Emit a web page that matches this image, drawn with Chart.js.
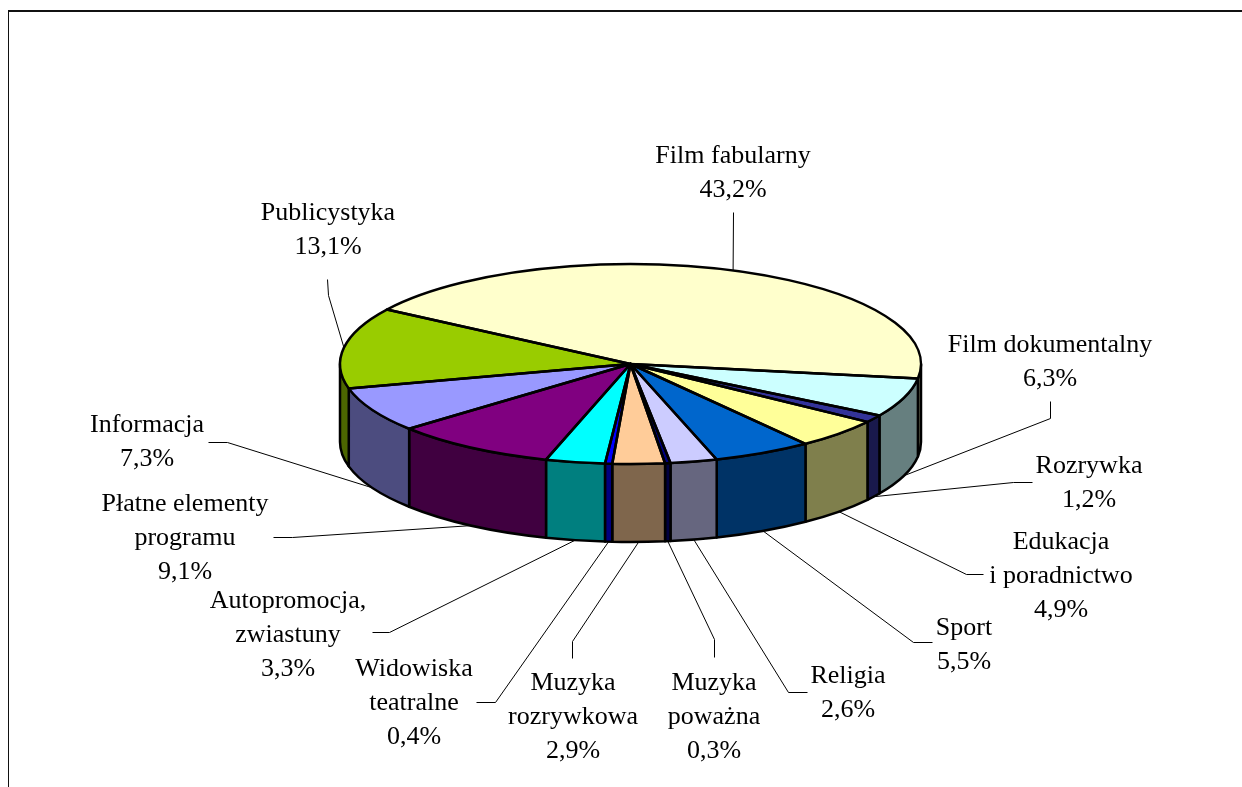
<!DOCTYPE html>
<html>
<head>
<meta charset="utf-8">
<title>Struktura programu</title>
<script src="https://cdn.jsdelivr.net/npm/chart.js@4"></script>
<style>
    body { margin: 0; background: #fff; }
    #wrap { position: absolute; left: 0; top: 0; width: 1242px; height: 787px; overflow: hidden; }
    /* only the top and left edges of the frame are visible in the crop */
    #frame { position: absolute; left: 8px; top: 10px; width: 1300px; height: 900px; box-sizing: border-box;
             border-top: 2px solid #111; border-left: 1px solid #111; }
    canvas { position: absolute; left: 0; top: 0; }
</style>
</head>
<body>
<div id="wrap">
    <div id="frame"></div>
    <canvas id="chart" width="1242" height="787"></canvas>
</div>
<script>
// Data
const categories = [
    'Film fabularny', 'Film dokumentalny', 'Rozrywka', 'Edukacja\ni poradnictwo', 'Sport', 'Religia',
    'Muzyka\npoważna', 'Muzyka\nrozrywkowa', 'Widowiska\nteatralne', 'Autopromocja,\nzwiastuny',
    'Płatne elementy\nprogramu', 'Informacja', 'Publicystyka'
];
const shares = [43.2, 6.3, 1.2, 4.9, 5.5, 2.6, 0.3, 2.9, 0.4, 3.3, 9.1, 7.3, 13.1];
const sliceColors = [
    '#FFFFCC', '#CCFFFF', '#333399', '#FFFF99', '#0066CC', '#CCCCFF',
    '#000080', '#FFCC99', '#0000FF', '#00FFFF', '#800080', '#9999FF', '#99CC00'
];

// Label layout: centre x and y of the first text line, then the leader's free end and elbow
const labelCenters = [
    [733, 156], [1050, 345], [1089, 466], [1061, 542], [964, 628], [848, 676],
    [714, 683], [573, 683], [414, 669], [288, 601], [185, 504], [147, 425], [328, 213]
];
const leaderStarts = [
    [733, 212], [1050, 401], [1032, 482], [983, 574], [932, 642], [807, 692],
    [714, 657], [572, 658], [476, 702], [372, 632], [273, 537], [208, 442], [327, 279]
];
const leaderElbows = [
    [733, 212], [1050, 418], [1013, 482], [966, 574], [913, 642], [788, 692],
    [714, 639], [572, 641], [495, 702], [389, 632], [292, 537], [227, 442], [328, 295]
];

const START_ROTATION = -57;   // degrees, Film fabularny starts here
const TILT = 100 / 290.5;     // vertical squash of the pie
const DEPTH = 78;             // height of the rim
const LINE_HEIGHT = 34;
const OUTLINE = 2.5;

function halfColor(hex) {
    const n = parseInt(hex.slice(1), 16);
    const r = (n >> 16) >> 1, g = ((n >> 8) & 255) >> 1, b = (n & 255) >> 1;
    return `rgb(${r},${g},${b})`;
}

function sliceGeometry(chart) {
    return chart.getDatasetMeta(0).data.map(arc =>
        arc.getProps(['x', 'y', 'startAngle', 'endAngle', 'outerRadius'], true));
}

const tiltedPie = {
    id: 'tiltedPie',
    beforeDatasetsDraw(chart) {
        const ctx = chart.ctx;
        ctx.save();
        ctx.lineWidth = OUTLINE;
        ctx.lineJoin = 'round';
        ctx.strokeStyle = '#000';

        // Rim: only the part of each slice facing the viewer (0..PI on the canvas)
        sliceGeometry(chart).forEach((g, i) => {
            [0, Math.PI * 2].forEach(turn => {
                const a0 = Math.max(g.startAngle, turn);
                const a1 = Math.min(g.endAngle, turn + Math.PI);
                if (a1 <= a0) return;
                const ry = g.outerRadius * TILT;
                ctx.beginPath();
                ctx.ellipse(g.x, g.y, g.outerRadius, ry, 0, a0, a1);
                ctx.ellipse(g.x, g.y + DEPTH, g.outerRadius, ry, 0, a1, a0, true);
                ctx.closePath();
                ctx.fillStyle = halfColor(sliceColors[i]);
                ctx.fill();
                ctx.stroke();
            });
        });
        ctx.restore();

        // The library draws the top face, squashed
        const c = sliceGeometry(chart)[0];
        ctx.save();
        ctx.translate(c.x, c.y);
        ctx.scale(1, TILT);
        ctx.translate(-c.x, -c.y);
    },
    afterDatasetsDraw(chart) {
        const ctx = chart.ctx;
        ctx.restore();

        const slices = sliceGeometry(chart);

        // Slice outlines at an even line width
        ctx.save();
        ctx.lineWidth = OUTLINE;
        ctx.lineJoin = 'round';
        ctx.strokeStyle = '#000';
        slices.forEach(g => {
            ctx.beginPath();
            ctx.moveTo(g.x, g.y);
            ctx.ellipse(g.x, g.y, g.outerRadius, g.outerRadius * TILT, 0, g.startAngle, g.endAngle);
            ctx.closePath();
            ctx.stroke();
        });
        ctx.restore();

        // Leader lines end at the middle of each slice's outer edge
        ctx.save();
        ctx.lineWidth = 1;
        ctx.strokeStyle = '#000';
        slices.forEach((g, i) => {
            const mid = (g.startAngle + g.endAngle) / 2;
            const ex = g.x + g.outerRadius * Math.cos(mid);
            let ey = g.y + g.outerRadius * TILT * Math.sin(mid);
            if (Math.sin(mid) > 0) ey += DEPTH;
            ctx.beginPath();
            ctx.moveTo(leaderStarts[i][0] + 0.5, leaderStarts[i][1] + 0.5);
            ctx.lineTo(leaderElbows[i][0] + 0.5, leaderElbows[i][1] + 0.5);
            ctx.lineTo(ex, ey);
            ctx.stroke();
        });
        ctx.restore();

        // Labels
        ctx.save();
        ctx.font = '26px "Liberation Serif"';
        ctx.fillStyle = '#000';
        ctx.textAlign = 'center';
        ctx.textBaseline = 'middle';
        categories.forEach((name, i) => {
            const lines = name.split('\n');
            lines.push(shares[i].toFixed(1).replace('.', ',') + '%');
            lines.forEach((line, k) => {
                ctx.fillText(line, labelCenters[i][0], labelCenters[i][1] + k * LINE_HEIGHT);
            });
        });
        ctx.restore();
    }
};

new Chart(document.getElementById('chart'), {
    type: 'pie',
    data: {
        labels: categories,
        datasets: [{
            data: shares,
            backgroundColor: sliceColors,
            borderWidth: 0
        }]
    },
    options: {
        responsive: false,
        animation: false,
        rotation: START_ROTATION,
        layout: { padding: { left: 340, right: 321, top: 73.5, bottom: 132.5 } },
        plugins: {
            legend: { display: false },
            tooltip: { enabled: false }
        }
    },
    plugins: [tiltedPie]
});
</script>
</body>
</html>
